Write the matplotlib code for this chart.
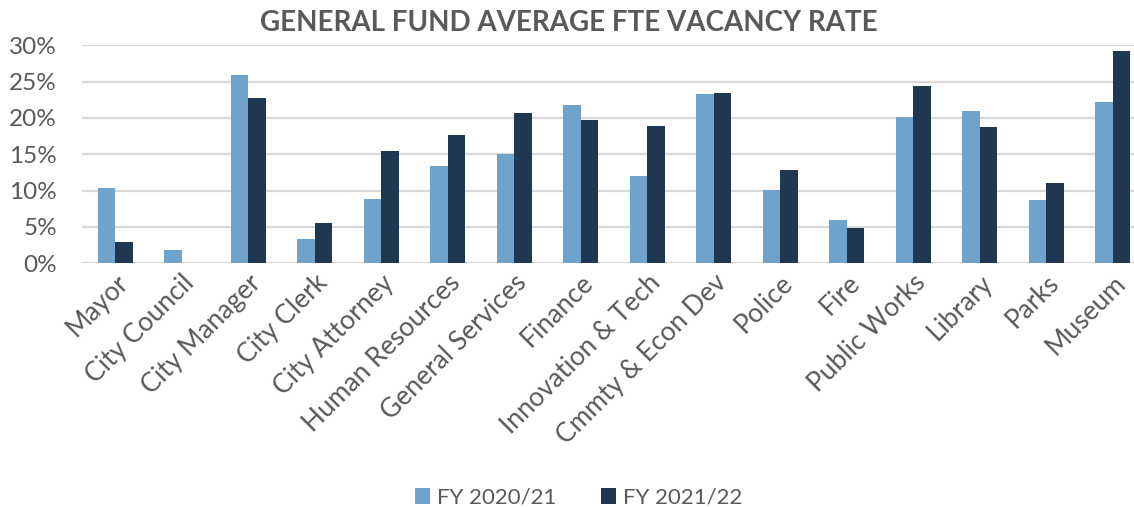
import matplotlib
matplotlib.use("Agg")
import matplotlib.pyplot as plt
import numpy as np
from matplotlib.ticker import FuncFormatter

departments = ["Mayor", "City Council", "City Manager", "City Clerk", "City Attorney",
               "Human Resources", "General Services", "Finance", "Innovation & Tech",
               "Cmmty & Econ Dev", "Police", "Fire", "Public Works", "Library",
               "Parks", "Museum"]
fy2021 = [10.3, 1.8, 25.9, 3.3, 8.9, 13.4, 15.0, 21.8, 12.0, 23.3, 10.1, 6.0, 20.1, 20.9, 8.7, 22.2]
fy2122 = [2.9, 0.0, 22.7, 5.6, 15.4, 17.6, 20.7, 19.7, 18.9, 23.4, 12.9, 4.8, 24.4, 18.8, 11.1, 29.2]

light = "#6FA3CB"
dark = "#1F3750"
grey = "#595959"

plt.rcParams['font.family'] = ['Lato', 'DejaVu Sans']

fig = plt.figure(figsize=(11.34, 5.07), dpi=100)
ax = fig.add_axes([82 / 1134, 243.7 / 507, 1064 / 1134, 218 / 507])

x = np.arange(len(departments))
w = 0.26
ax.bar(x - w / 2, fy2021, width=w, color=light, label="FY 2020/21", zorder=3)
ax.bar(x + w / 2, fy2122, width=w, color=dark, label="FY 2021/22", zorder=3)

ax.set_xlim(-0.5, len(departments) - 0.5)
ax.set_ylim(0, 30)
ax.set_yticks(range(0, 31, 5))
ax.yaxis.set_major_formatter(FuncFormatter(lambda v, p: f"{int(v)}%"))
ax.grid(axis='y', color="#D9D9D9", linewidth=1.6, zorder=0)
for s in ax.spines.values():
    s.set_visible(False)
ax.tick_params(axis='y', length=0, pad=18, labelcolor=grey, labelsize=17.5)
ax.tick_params(axis='x', length=0, pad=5)
ax.set_xticks(x)
ax.set_xticklabels(departments, rotation=45, ha='right', rotation_mode='anchor',
                   fontsize=19, color=grey)

fig.text(0.502, 0.955, "GENERAL FUND AVERAGE FTE VACANCY RATE", ha='center', va='center',
         fontsize=20, fontweight='bold', color=grey)

leg = fig.legend(loc='center', bbox_to_anchor=(0.51, 0.018), ncol=2, frameon=False,
                 fontsize=16, handlelength=0.7, handleheight=0.7,
                 columnspacing=2.0, handletextpad=0.3)
for t in leg.get_texts():
    t.set_color(grey)

fig.savefig("out.png", dpi=100)
